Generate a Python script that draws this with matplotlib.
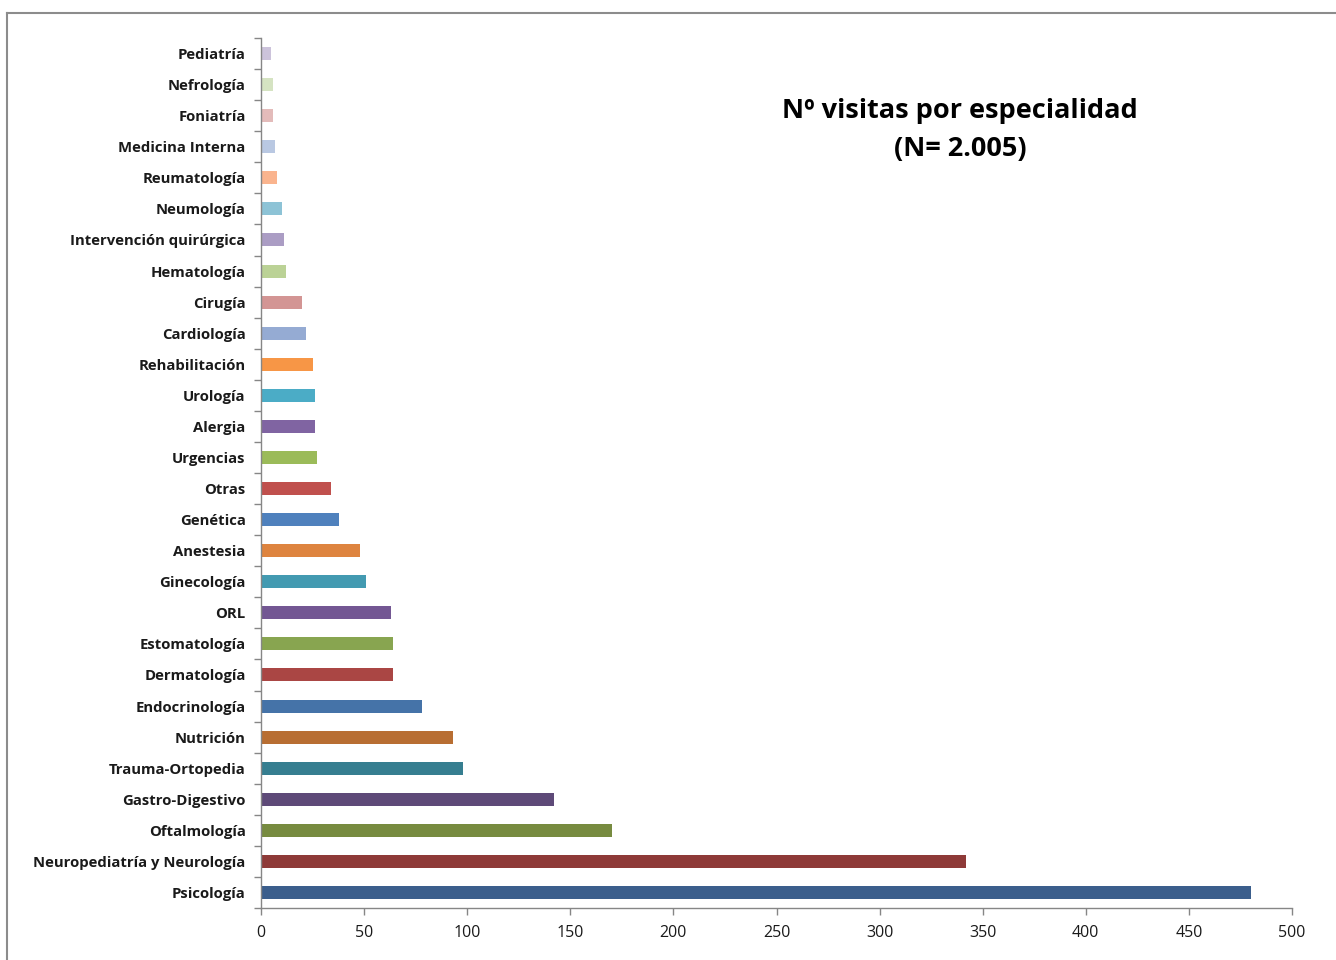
import numpy as np
import matplotlib.pyplot as plt
from matplotlib.lines import Line2D

# Datos (de abajo hacia arriba)
especialidades = ["Psicología", "Neuropediatría y Neurología", "Oftalmología",
                  "Gastro-Digestivo", "Trauma-Ortopedia", "Nutrición",
                  "Endocrinología", "Dermatología", "Estomatología", "ORL",
                  "Ginecología", "Anestesia", "Genética", "Otras", "Urgencias",
                  "Alergia", "Urología", "Rehabilitación", "Cardiología",
                  "Cirugía", "Hematología", "Intervención quirúrgica",
                  "Neumología", "Reumatología", "Medicina Interna", "Foniatría",
                  "Nefrología", "Pediatría"]
visitas = [480, 342, 170, 142, 98, 93, 78, 64, 64, 63, 51, 48, 38, 34, 27,
           26, 26, 25, 22, 20, 12, 11, 10, 8, 7, 6, 6, 5]
colores = ["#3B5E8C", "#8E3A38", "#778B40", "#5E4A78", "#367E90", "#B86E32",
           "#4573A8", "#AA4644", "#88A550", "#735793", "#439AB1", "#DE843F",
           "#4F81BD", "#C0504D", "#9BBB59", "#8064A2", "#4BACC6", "#F79646",
           "#95ABD3", "#D39594", "#BBD296", "#AB9DC4", "#8DC3D6", "#FAB48E",
           "#B9C8E2", "#E3BBBA", "#D5E3C2", "#CCC3DB"]
titulo = "Nº visitas por especialidad\n(N= 2.005)"

fig = plt.figure(figsize=(13.36, 9.6), dpi=100)
ax = fig.add_axes([261/1336, 1-908/960, (1292-261)/1336, (908-38)/960])

n = np.arange(len(especialidades))
ax.barh(n, visitas, height=0.42, color=colores)

gris = "#868686"
ax.set_xlim(0, 500)
ax.set_ylim(-0.5, len(especialidades)-0.5)
ax.set_xticks(np.arange(0, 501, 50))
ax.set_yticks(n)
ax.set_yticklabels(especialidades, fontsize=10.7, fontweight="bold",
                   family="Open Sans", color="#1a1a1a")
ax.set_yticks(np.arange(-0.5, len(especialidades)), minor=True)
ax.tick_params(axis="y", which="major", length=0, pad=11)
ax.tick_params(axis="y", which="minor", length=5, color=gris, width=1)
ax.tick_params(axis="x", length=5, color=gris, width=1, pad=7,
               labelsize=11.5, labelcolor="#1a1a1a")
for lab in ax.get_xticklabels():
    lab.set_family("Open Sans")

for s in ["top", "right"]:
    ax.spines[s].set_visible(False)
for s in ["left", "bottom"]:
    ax.spines[s].set_color(gris)
    ax.spines[s].set_linewidth(1)

fig.text(960/1336, 1-130/960, titulo, ha="center", va="center",
         fontsize=19.5, fontweight="bold", family="Open Sans",
         linespacing=1.62, color="black")

# Borde del gráfico
fig.add_artist(Line2D([7/1336, 7/1336], [0, 1-13/960], color="#8c8c8c", lw=1.5))
fig.add_artist(Line2D([7/1336, 1], [1-13/960, 1-13/960], color="#8c8c8c", lw=1.5))

fig.savefig("out.png", dpi=100)
